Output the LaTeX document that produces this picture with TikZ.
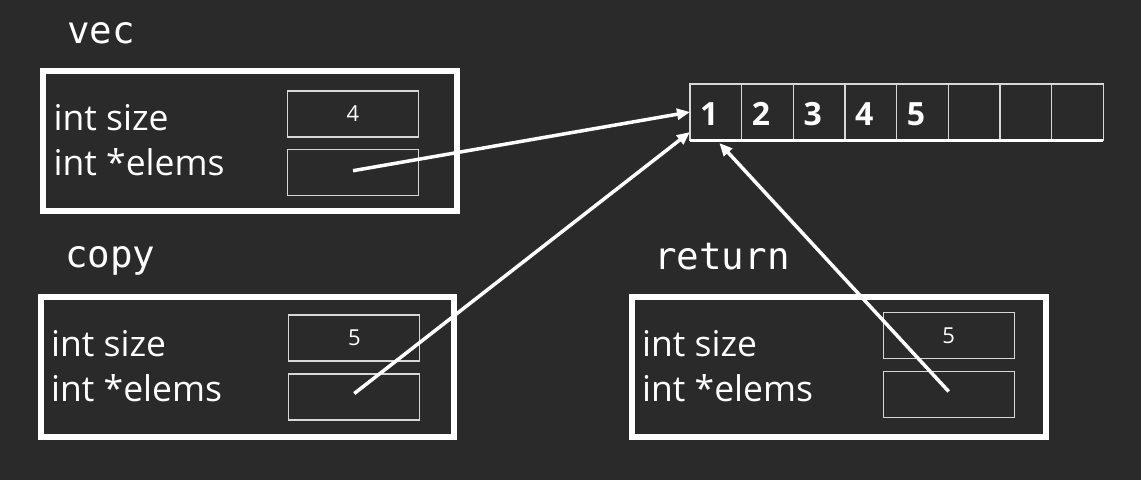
\documentclass[tikz,border=0pt]{standalone}
\usepackage{fontspec}
\setmainfont{Open Sans}
\newfontfamily\labfont{DejaVu Sans Mono}
\usetikzlibrary{arrows.meta}
\definecolor{bg}{RGB}{42,42,42}
\definecolor{thinc}{RGB}{215,215,215}
\begin{document}
\begin{tikzpicture}[x=1pt,y=-1pt,
  outerbox/.style={draw=white,line width=6pt,inner sep=0pt,outer sep=0pt,minimum width=413.5pt,minimum height=140pt},
  valbox/.style={draw=thinc,line width=1.3pt,inner sep=0pt,outer sep=0pt,minimum width=131pt,minimum height=46pt,text=white,font=\fontsize{22}{24}\selectfont},
  cell/.style={draw=thinc,line width=1.3pt,inner sep=0pt,outer sep=0pt,minimum width=51.67pt,minimum height=56pt},
  fieldtxt/.style={anchor=base west,inner sep=0pt,text=white,font=\fontsize{35.5}{40}\selectfont},
  titletxt/.style={anchor=base west,inner sep=0pt,text=white,font=\labfont\fontsize{37.5}{40}\selectfont},
  numtxt/.style={anchor=base west,inner sep=0pt,text=white,font=\bfseries\fontsize{32}{36}\selectfont},
  ptr/.style={draw=white,line width=3.5pt,-{Triangle[length=13pt,width=11pt]}}
]
\fill[bg] (0,0) rectangle (1141,480);
\useasboundingbox (0,0) rectangle (1141,480);

% vec
\node[titletxt] (vecl) at (67,43) {vec};
\node[outerbox] (vecb) at (250.2,140.5) {};
\node[fieldtxt] (vecs) at (53.5,130) {int size};
\node[fieldtxt] (vece) at (53.5,175) {int *elems};
\node[valbox] (vecsv) at (353,114) {4};
\node[valbox] (vecev) at (353,172.7) {};

% copy
\node[titletxt] (copyl) at (65,267) {copy};
\node[outerbox] (copyb) at (247.3,367) {};
\node[fieldtxt] (copys) at (51,356.7) {int size};
\node[fieldtxt] (copye) at (51,401.7) {int *elems};
\node[valbox] (copysv) at (354.3,338) {5};
\node[valbox] (copyev) at (354.3,397) {};

% return
\node[titletxt] (retl) at (654,269) {return};
\node[outerbox] (retb) at (838.75,367) {};
\node[fieldtxt] (rets) at (642,356.7) {int size};
\node[fieldtxt] (rete) at (642,401.7) {int *elems};
\node[valbox] (retsv) at (948.7,335.7) {5};
\node[valbox] (retev) at (948.7,394.5) {};

% array
\foreach \i in {1,...,8} {
  \node[cell] (c\i) at ({690+51.67*(\i-0.5)},112) {};
}
\foreach \i in {1,...,5} {
  \node[numtxt] (n\i) at ({690+51.67*(\i-1)+10},125) {\i};
}
\draw[white,line width=3pt] (c1.south west) -- (c8.south east);

% pointers
\draw[ptr] ([yshift=2pt]vecev.center) -- (c1.west);
\draw[ptr] ([yshift=3.5pt]copyev.center) -- ([yshift=8pt]c1.south west);
\draw[ptr] ([yshift=3pt]retev.center) -- ([xshift=3.5pt,yshift=-3pt]c1.south);
\end{tikzpicture}
\end{document}
